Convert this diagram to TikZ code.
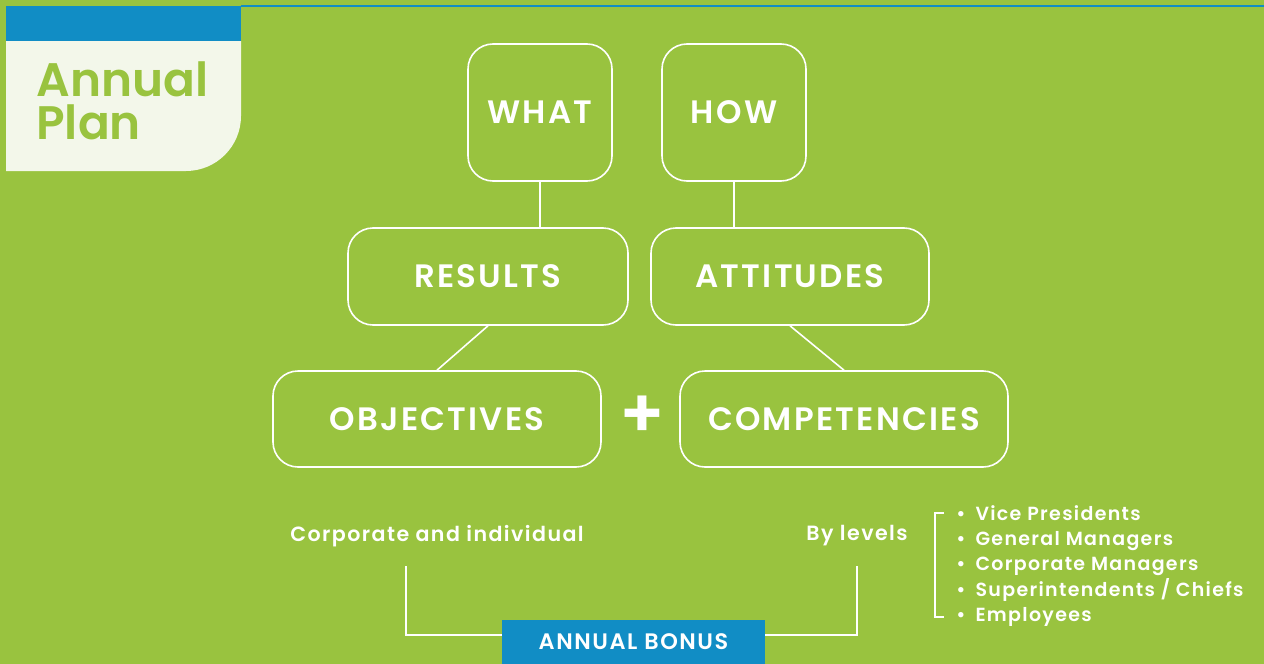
\documentclass[tikz,border=0pt]{standalone}
\usepackage{fontspec}
\setmainfont{Poppins}[BoldFont={Poppins SemiBold},LetterSpace=7]
\newfontfamily\titlefont{Poppins SemiBold}
\usepackage{tikz}
\definecolor{leaf}{RGB}{153,195,63}
\definecolor{sky}{RGB}{17,141,197}
\definecolor{paper}{RGB}{243,247,234}

\begin{document}
\begin{tikzpicture}[x=0.5pt,y=-0.5pt]
\tikzstyle{box} = [draw=white,line width=0.8pt,rounded corners=12.5pt,text=white,font=\fontsize{16.2}{18}\selectfont\bfseries,inner sep=0pt]
\tikzstyle{link} = [draw=white,line width=0.8pt]
\tikzstyle{note} = [text=white,font=\fontsize{10.3}{12}\selectfont\bfseries,inner sep=0pt]
\useasboundingbox (0,0) rectangle (1264,664);
\fill[leaf] (0,0) rectangle (1264,664);
\fill[sky] (6,6) rectangle (241,41);
\fill[paper] (6,41) -- (241,41) -- (241,116) arc[start angle=0,end angle=-90,radius=27.5pt] -- (6,171) -- cycle;
\draw[sky,line width=1pt] (241,6) -- (1264,6);
\node[anchor=north west,align=left,text=leaf,inner sep=0pt,
  font=\fontsize{23.5}{21.5}\titlefont] (title) at (36,61) {Annual\\Plan};

\node[box,minimum width=72pt,minimum height=68.5pt] (what) at (540,112.5) {WHAT};
\node[box,minimum width=72pt,minimum height=68.5pt] (how) at (734,112.5) {HOW};
\node[box,minimum width=140pt,minimum height=48.5pt] (results) at (488,276.5) {RESULTS};
\node[box,minimum width=139pt,minimum height=48.5pt] (attitudes) at (790,276.5) {ATTITUDES};
\node[box,minimum width=164pt,minimum height=48pt] (objectives) at (437,419) {OBJECTIVES};
\node[box,minimum width=164pt,minimum height=48pt] (competencies) at (844,419) {COMPETENCIES};
\node[text=white,inner sep=0pt,font=\fontsize{34}{34}\selectfont\bfseries] (plus) at (642,417) {+};

\draw[link] (what.south) -- (what.south |- results.north);
\draw[link] (how.south) -- (how.south |- attitudes.north);
\draw[link] (results.south) -- (objectives.north);
\draw[link] (attitudes.south) -- (competencies.north);

\node[note] (corporate) at (437,536) {Corporate and individual};
\node[note] (bylevels) at (857,536) {By levels};
\node[fill=sky,text=white,minimum width=131.5pt,minimum height=22pt,inner sep=0pt,
  font=\fontsize{11.2}{12}\selectfont\bfseries] (bonus) at (633.5,642) {ANNUAL BONUS};
\coordinate (cl) at (406,566);
\coordinate (cr) at (857,566);
\draw[link,line width=1.2pt] (cl) |- ([yshift=3.5pt]bonus.west);
\draw[link,line width=1.2pt] (cr) |- ([yshift=3.5pt]bonus.east);

\node[note,anchor=west,align=left,font=\fontsize{9.5}{12.6}\selectfont\bfseries] (levels) at (956,566)
  {\textbullet\hspace{5pt}Vice Presidents\\
   \textbullet\hspace{5pt}General Managers\\
   \textbullet\hspace{5pt}Corporate Managers\\
   \textbullet\hspace{5pt}Superintendents / Chiefs\\
   \textbullet\hspace{5pt}Employees};
\coordinate (lt) at (944,513);
\coordinate (lb) at (944,617);
\draw[link] (lt) -- ++(-9,0) |- (lb);
\end{tikzpicture}
\end{document}
